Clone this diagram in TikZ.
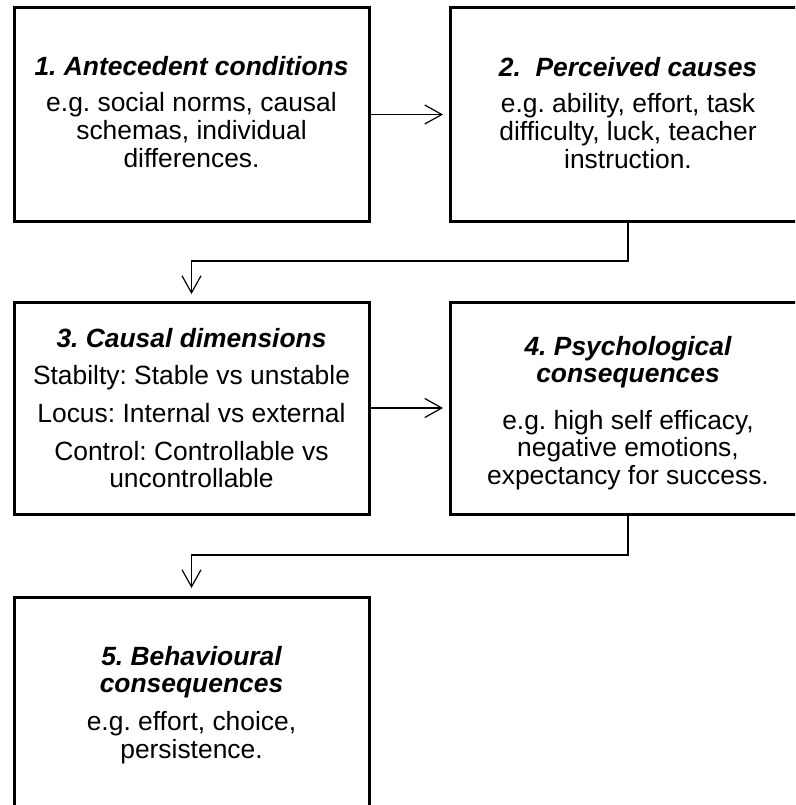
\documentclass[tikz,border=0pt]{standalone}
\usepackage{fontspec}
\setmainfont{Liberation Sans}
\usetikzlibrary{arrows.meta}
\frenchspacing
\newcommand{\boxtext}[1]{\parbox[t]{340pt}{\centering #1}}
\begin{document}
\begin{tikzpicture}[x=1pt,y=-1pt,
  stage/.style={draw=black, line width=3pt, rectangle, inner sep=0pt, outer sep=0pt,
    minimum width=355pt, minimum height=213pt},
  ttl/.style={anchor=base, inner sep=0pt, font=\fontsize{26.4}{27.3}\selectfont\bfseries\itshape},
  bdy/.style={anchor=base, inner sep=0pt, font=\fontsize{26.4}{28}\selectfont},
  conn/.style={draw=black, line width=1.2pt, -{Straight Barb[length=17pt,width=19pt]}}
]
\clip (0,0) rectangle (795,805);
% boxes
\node[stage] (b1) at (191.5,114.5) {};
\node[stage, minimum width=356pt] (b2) at (628,114.5) {};
\node[stage, minimum height=212pt] (b3) at (191.5,408) {};
\node[stage, minimum width=356pt, minimum height=212pt] (b4) at (628,408) {};
\node[stage] (b5) at (191.5,703.5) {};
% texts
\node[ttl] (t1) at (191.5,75.5) {\boxtext{1. Antecedent conditions}};
\node[bdy] (d1) at (191.5,112) {\boxtext{e.g. social norms, causal\\schemas, individual\\differences.}};
\node[ttl] (t2) at (628,76.5) {\boxtext{2.\ \ Perceived causes}};
\node[bdy] (d2) at (628,113) {\boxtext{e.g. ability, effort, task\\difficulty, luck, teacher\\instruction.}};
\node[ttl] (t3) at (191.5,347) {\boxtext{3. Causal dimensions}};
\node[bdy, font=\fontsize{26.4}{27}\selectfont] (d3) at (191.5,384) {\boxtext{Stabilty: Stable vs unstable\\[11.5pt]Locus: Internal vs external\\[11pt]Control: Controllable vs\\uncontrollable}};
\node[ttl] (t4) at (628,355) {\boxtext{4. Psychological\\consequences}};
\node[bdy, font=\fontsize{26.4}{27.5}\selectfont] (d4) at (628,429) {\boxtext{e.g. high self efficacy,\\negative emotions,\\expectancy for success.}};
\node[ttl] (t5) at (191.5,665) {\boxtext{5. Behavioural\\consequences}};
\node[bdy] (d5) at (191.5,730.5) {\boxtext{e.g. effort, choice,\\persistence.}};
% connectors
\draw[conn, shorten >=7pt] (b1.east) -- (b2.west);
\draw[conn, shorten >=8pt] (b2.south) -- ++(0,40) -| (b3.north);
\draw[conn, shorten >=7pt] (b3.east) -- (b4.west);
\draw[conn, shorten >=9pt] (b4.south) -- ++(0,41) -| (b5.north);
\end{tikzpicture}
\end{document}
